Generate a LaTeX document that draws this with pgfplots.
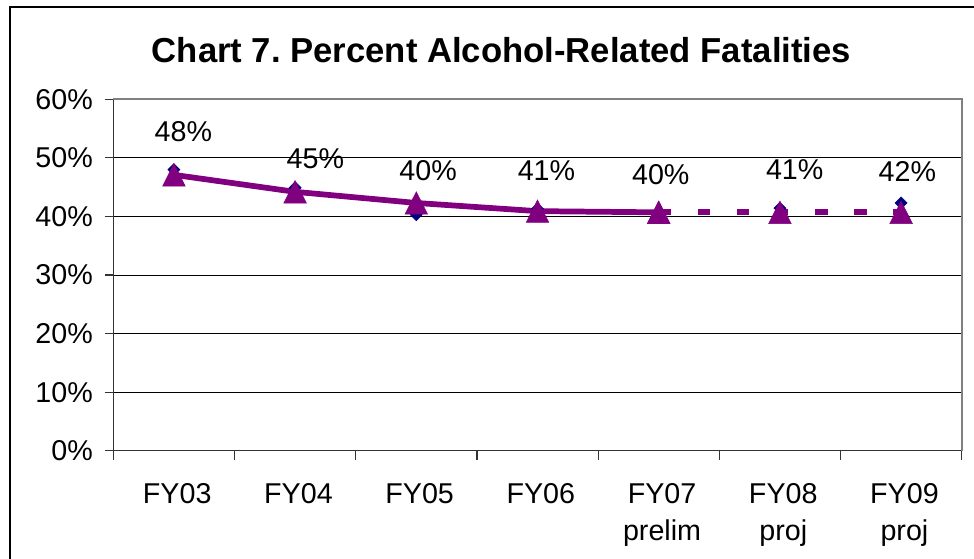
\documentclass[border=0pt]{standalone}
\usepackage{pgfplots}
\pgfplotsset{compat=1.18}
\usepackage{fontspec}
\setmainfont{Liberation Sans}
\frenchspacing
\definecolor{trendpurple}{RGB}{128,0,128}
\definecolor{navyblue}{RGB}{0,0,128}
\begin{document}
\begin{tikzpicture}
\useasboundingbox (0pt,0pt) rectangle (730.5pt,418.5pt);
\draw[line width=1.3pt] (7.5pt,-15pt) -- (7.5pt,413.5pt) -- (750pt,413.5pt);
\node[anchor=base,inner sep=0pt,font=\fontsize{26}{30}\selectfont\bfseries] at (376.1pt,371.25pt) {Chart 7. Percent Alcohol-Related Fatalities};
\begin{axis}[
  at={(84.98pt,80.48pt)}, anchor=south west,
  scale only axis, width=636.3pt, height=263.55pt,
  xmin=-0.5, xmax=6.5, ymin=0, ymax=60,
  clip=false,
  axis lines*=left,
  axis line style={black!80, line width=1.2pt},
  xtick={0,...,6},
  xticklabels={FY03,FY04,FY05,FY06,{FY07\\prelim},{FY08\\proj},{FY09\\proj}},
  major x tick style={draw=none},
  minor xtick={-0.5,0.5,...,6.5},
  minor x tick style={black!80, line width=0.9pt},
  ytick={0,10,...,60},
  yticklabels={0\%,10\%,20\%,30\%,40\%,50\%,60\%},
  y tick style={black!80, line width=0.9pt},
  tick align=outside,
  major tick length=6pt,
  minor tick length=6.75pt,
  ymajorgrids,
  major grid style={black, line width=0.75pt},
  xticklabel style={font=\fontsize{21.5}{28}\selectfont, align=center, anchor=north, inner sep=0pt, yshift=-18.45pt, xshift=2.5pt},
  yticklabel style={font=\fontsize{21.5}{26}\selectfont, anchor=east, inner sep=0pt, xshift=-9.2pt},
  after end axis/.code={
    \draw[gray, line width=1.5pt] (rel axis cs:0,1) -- (rel axis cs:1,1) -- (rel axis cs:1,0);
  },
]
% actual values (diamonds)
\addplot[only marks, color=navyblue, mark=square*, mark size=3.2pt, mark options={rotate=45}]
  coordinates {(0,48.0)(1,44.9)(2,40.3)(3,41.3)(4,40.4)(5,41.4)(6,42.3)};
% trend, solid part
\addplot[color=trendpurple, line width=4.3pt, mark=triangle*, mark size=9.75pt,
  mark options={solid, line width=0.4pt, yshift=-2.8pt, yscale=1.15}]
  coordinates {(0,47.1)(1,44.2)(2,42.3)(3,40.9)(4,40.7)};
% trend, projected part
\addplot[color=trendpurple, line width=4.3pt, line cap=butt, dash pattern=on 9.4pt off 19.9pt,
  mark=triangle*, mark size=9.75pt,
  mark options={solid, line width=0.4pt, yshift=-2.8pt, yscale=1.15}]
  coordinates {(4,40.7)(5,40.7)(6,40.7)};
% data labels
\addplot[draw=none, mark=none, forget plot, nodes near coords, point meta=explicit symbolic,
  every node near coord/.append style={anchor=center, inner sep=0pt, font=\fontsize{21.5}{26}\selectfont, text=black}]
  coordinates {(0.078,54.47)[48\%] (1.167,49.9)[45\%] (2.097,47.8)[40\%] (3.074,47.8)[41\%]
               (4.017,47.07)[40\%] (5.122,47.98)[41\%] (6.052,47.64)[42\%]};
\end{axis}
\end{tikzpicture}
\end{document}
